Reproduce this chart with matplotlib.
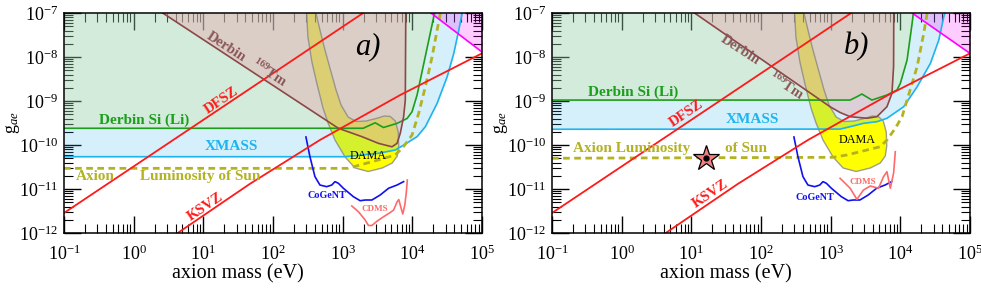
import matplotlib.pyplot as plt

plt.rcParams["font.family"] = ["Liberation Serif", "DejaVu Serif"]
plt.rcParams["mathtext.fontset"] = "custom"
plt.rcParams["mathtext.rm"] = "Liberation Serif"
plt.rcParams["mathtext.it"] = "Liberation Serif:italic"
plt.rcParams["mathtext.bf"] = "Liberation Serif:bold"

# =========================================================
# data (axion mass in eV, coupling g_ae)
# =========================================================

m_lim = (1e-1, 1e5)
g_lim = (1e-12, 1e-7)

# common to both panels
dfsz_m = [0.1, 1970]
dfsz_g = [2.85e-12, 1e-7]
ksvz_m = [4.29, 46.3, 472, 6714, 1e5]
ksvz_g = [1e-12, 1.30e-11, 1.30e-10, 1.37e-9, 1.21e-8]

cogent_m = [297, 339, 400, 472, 590, 697, 776, 867, 1023, 1426, 1782, 2104,
            2624, 3459, 4560, 6026, 7499]
cogent_g = [1.52e-10, 5.42e-11, 1.91e-11, 1.23e-11, 1.13e-11, 1.23e-11,
            1.47e-11, 1.35e-11, 1.04e-11, 6.68e-12, 5.42e-12, 5.62e-12,
            5.62e-12, 7.31e-12, 1.04e-11, 1.23e-11, 1.47e-11]

dama_m = [304, 317, 362, 428, 522, 617, 776, 1084, 1510, 2323, 3698, 5152,
          6081, 6383, 6281, 5689, 4819, 3954, 3027, 2173, 1560, 1197, 948,
          804, 681, 557, 472, 414]
dama_g = [1e-7, 2.85e-8, 7.69e-9, 2.43e-9, 6.93e-10, 3.16e-10, 1.30e-10,
          5.33e-11, 3.0e-11, 2.5e-11, 3.0e-11, 3.9e-11, 5.62e-11, 9.48e-11,
          1.97e-10, 3.51e-10, 4.45e-10, 4.56e-10, 4.0e-10, 3.51e-10,
          3.42e-10, 4.33e-10, 8.11e-10, 1.78e-9, 4.56e-9, 1.44e-8, 4.11e-8,
          1e-7]

# panel a)
si_a_m = [0.1, 1970, 2930, 3850, 6030, 8400, 9900, 11700, 20300, 21000]
si_a_g = [2.4e-10, 2.4e-10, 3.2e-10, 2.5e-10, 3.1e-10, 4.0e-10, 5.7e-10,
          1.37e-9, 8.2e-8, 1e-7]
xmass_a_m = [0.1, 1084, 3236, 5689, 7925, 11700, 15380, 22700, 31620,
             39360, 46450, 52000]
xmass_a_g = [5.42e-11, 5.42e-11, 6.47e-11, 7.69e-11, 1.05e-10, 1.55e-10,
             2.61e-10, 8.87e-10, 3.56e-9, 1.21e-8, 4.11e-8, 1e-7]
tm_a_m = [2.61, 867, 1884, 3266, 5105, 6026, 6714, 7499, 7925, 8054]
tm_a_g = [1e-7, 2.4e-10, 1.55e-10, 1.09e-10, 9.1e-11, 1.09e-10, 1.85e-10,
          4.4e-10, 1.05e-9, 1e-7]
sun_a_m = [0.1, 1197, 1667, 3236, 5689, 7413, 9908, 12330, 15380, 19230,
           22700, 25290]
sun_a_g = [2.95e-11, 2.95e-11, 3.42e-11, 4.56e-11, 5.93e-11, 9.02e-11,
           1.69e-10, 5.25e-10, 2.11e-9, 1.02e-8, 4.11e-8, 1e-7]
cdms_a_m = [1352, 1683, 2104, 2344, 2624, 3133, 3855, 4819, 5383, 6026,
            6383, 6823, 7295, 7798, 8204, 8472]
cdms_a_g = [4.11e-12, 3.05e-12, 1.97e-12, 1.48e-12, 1.48e-12, 1.87e-12,
            2.34e-12, 2.92e-12, 3.33e-12, 5.07e-12, 5.77e-12, 3.90e-12,
            2.70e-12, 4.33e-12, 8.55e-12, 1.60e-11]
mag_a_m = [18500, 1e5]
mag_a_g = [1e-7, 1.3e-8]

# panel b)
si_b_m = [0.1, 1905, 2377, 2805, 3908, 6427, 8954, 10000, 12500, 14760,
          15380]
si_b_g = [1.05e-9, 1.05e-9, 1.25e-9, 1.44e-9, 1.05e-9, 1.37e-9, 1.78e-9,
          2.52e-9, 8.55e-9, 5.83e-8, 1e-7]
xmass_b_m = [0.1, 1365, 1905, 2958, 4613, 6427, 11170, 17420, 27040, 35650,
             42070, 43750]
xmass_b_g = [2.28e-10, 2.3e-10, 2.61e-10, 3.11e-10, 3.39e-10, 4.05e-10,
             7.41e-10, 2.11e-9, 7.19e-9, 2.43e-8, 8.24e-8, 1e-7]
tm_b_m = [11.1, 980, 1365, 1905, 3311, 4613, 6427, 7586, 8000, 8054]
tm_b_g = [1e-7, 7.41e-10, 5.48e-10, 4.40e-10, 4.05e-10, 4.40e-10, 7.41e-10,
          1.50e-9, 6.03e-9, 1e-7]
sun_b_m = [0.1, 1084, 1706, 3311, 5152, 6427, 8472, 10590, 12500, 17420,
           21680, 24270]
sun_b_g = [5e-11, 5.25e-11, 5.93e-11, 7.69e-11, 9.14e-11, 1.30e-10,
           2.40e-10, 4.40e-10, 1.05e-9, 6.03e-9, 3.46e-8, 1e-7]
cdms_b_m = [1365, 1905, 2377, 2958, 3698, 4864, 5741, 6427, 7178, 8000, 8472]
cdms_b_g = [1.75e-11, 1.04e-11, 5.83e-12, 9.48e-12, 1.17e-11, 1.04e-11,
            1.91e-11, 2.47e-11, 1.04e-11, 2.28e-11, 7.05e-11]
mag_b_m = [14760, 1e5]
mag_b_g = [1e-7, 1.21e-8]

star_m = [16.4]
star_g = [5e-11]

# colours
c_green = "#1c9e1c"
c_xmass = "#1db4f0"
c_brown = "#8b4848"
c_red = "#ff1a1a"
c_olive = "#b3b322"
c_blue = "#1010f0"
c_cdms = "#ff6a6a"
c_mag = "#ff00ff"


# =========================================================
# one panel
# =========================================================

def draw_panel(ax, si_m, si_g, xm_m, xm_g, tm_m, tm_g, sun_m, sun_g,
               cd_m, cd_g, mg_m, mg_g):

    ax.set_xscale("log")
    ax.set_yscale("log")

    # DAMA underneath, exclusion regions laid over it
    ax.fill(dama_m, dama_g, color="#ffff00", lw=0, zorder=1)
    ax.fill_between(xm_m, xm_g, g_lim[1], color=(0.175, 0.706, 0.9),
                    alpha=0.2, lw=0, zorder=2)
    ax.fill_between(si_m, si_g, g_lim[1], color=(0.82, 0.876, 0.51),
                    alpha=0.25, lw=0, zorder=3)
    ax.fill(tm_m, tm_g, color=(0.90, 0.67, 0.69), alpha=0.45, lw=0,
            zorder=4)
    ax.fill_between(mg_m, mg_g, g_lim[1], color=c_mag, alpha=0.2, lw=0,
                    zorder=5)
    ax.fill(dama_m, dama_g, facecolor="none", edgecolor="#888888", lw=1.0,
            alpha=0.8, zorder=6)

    # lines
    ax.plot(xm_m, xm_g, color=c_xmass, lw=1.2, zorder=7)
    ax.plot(si_m, si_g, color=c_green, lw=1.2, zorder=7)
    ax.plot(tm_m, tm_g, color=c_brown, lw=1.2, zorder=7)
    ax.plot(sun_m, sun_g, color=c_olive, lw=2.0, dashes=(2.4, 1.6),
            zorder=7)
    ax.plot(mg_m, mg_g, color=c_mag, lw=1.2, zorder=7)
    ax.plot(cogent_m, cogent_g, color=c_blue, lw=1.2, zorder=7)
    ax.plot(cd_m, cd_g, color=c_cdms, lw=1.2, zorder=7)
    ax.plot(dfsz_m, dfsz_g, color=c_red, lw=1.3, zorder=8)
    ax.plot(ksvz_m, ksvz_g, color=c_red, lw=1.3, zorder=8)

    ax.set_xlim(*m_lim)
    ax.set_ylim(*g_lim)

    ax.tick_params(which="both", direction="in", top=True, right=True,
                   labelsize=13)
    ax.tick_params(which="major", length=12, width=1.0)
    ax.tick_params(which="minor", length=6.5, width=0.8)
    ax.tick_params(axis="x", which="major", pad=8.5)
    ax.tick_params(axis="y", which="major", pad=4)
    for s in ax.spines.values():
        s.set_linewidth(1.1)
        s.set_zorder(10)

    ax.set_xlabel("axion mass (eV)", fontsize=14.5)
    ax.xaxis.set_label_coords(0.416, -0.14)
    ax.set_ylabel("g$_{ae}$", fontsize=13)
    ax.yaxis.set_label_coords(-0.1, 0.5)


fig = plt.figure(figsize=(9.81, 2.93), dpi=100)
ax_a = fig.add_axes([64 / 981, 60 / 293, 418 / 981, 220 / 293])
ax_b = fig.add_axes([552 / 981, 60 / 293, 418 / 981, 220 / 293])

draw_panel(ax_a, si_a_m, si_a_g, xmass_a_m, xmass_a_g, tm_a_m, tm_a_g,
           sun_a_m, sun_a_g, cdms_a_m, cdms_a_g, mag_a_m, mag_a_g)
draw_panel(ax_b, si_b_m, si_b_g, xmass_b_m, xmass_b_g, tm_b_m, tm_b_g,
           sun_b_m, sun_b_g, cdms_b_m, cdms_b_g, mag_b_m, mag_b_g)

# star in panel b
ax_b.plot(star_m, star_g, marker="*", ms=19, mfc="#f08080", mec="black",
          mew=0.9, ls="none", zorder=9)
ax_b.plot(star_m, star_g, marker="o", ms=3.5, color="black", ls="none",
          zorder=9)


# =========================================================
# labels
# =========================================================

def label(ax, x, y, s, color, size=11, rot=0, weight="bold", style="normal"):
    ax.text(x, y, s, transform=ax.transAxes, color=color, fontsize=size,
            rotation=rot, fontweight=weight, style=style, ha="center",
            va="center", rotation_mode="anchor", zorder=11)


label(ax_a, 0.1926, 0.514, "Derbin Si (Li)", c_green)
label(ax_a, 0.3995, 0.391, "XMASS", c_xmass)
label(ax_a, 0.0742, 0.256, "Axion", c_olive)
label(ax_a, 0.3254, 0.256, "Luminosity of Sun", c_olive)
label(ax_a, 0.377, 0.602, "DFSZ", c_red, 10.5, 34)
label(ax_a, 0.339, 0.120, "KSVZ", c_red, 10.5, 34)
label(ax_a, 0.3876, 0.845, "Derbin", "#8a5656", 10.5, -33)
label(ax_a, 0.490, 0.727, r"$^{\mathbf{169}}$Tm", "#8a5656", 10.5, -33)
label(ax_a, 0.727, 0.845, "a)", "black", 22, weight="normal",
      style="italic")
label(ax_a, 0.727, 0.350, "DAMA", "black", 8.7, weight="normal")
label(ax_a, 0.629, 0.170, "CoGeNT", c_blue, 7.3)
label(ax_a, 0.744, 0.109, "CDMS", c_cdms, 6.5)

label(ax_b, 0.195, 0.638, "Derbin Si (Li)", c_green)
label(ax_b, 0.4797, 0.514, "XMASS", c_xmass)
label(ax_b, 0.1906, 0.385, "Axion Luminosity", c_olive)
label(ax_b, 0.463, 0.385, "of Sun", c_olive)
label(ax_b, 0.321, 0.544, "DFSZ", c_red, 10.5, 34)
label(ax_b, 0.3797, 0.180, "KSVZ", c_red, 10.5, 34)
label(ax_b, 0.4498, 0.832, "Derbin", "#8a5656", 10.5, -33)
label(ax_b, 0.561, 0.668, r"$^{\mathbf{169}}$Tm", "#8a5656", 10.5, -33)
label(ax_b, 0.729, 0.847, "b)", "black", 22, weight="normal",
      style="italic")
label(ax_b, 0.729, 0.423, "DAMA", "black", 8.7, weight="normal")
label(ax_b, 0.6285, 0.161, "CoGeNT", c_blue, 7.3)
label(ax_b, 0.743, 0.233, "CDMS", c_cdms, 6.5)

fig.savefig("out.png", dpi=100)
